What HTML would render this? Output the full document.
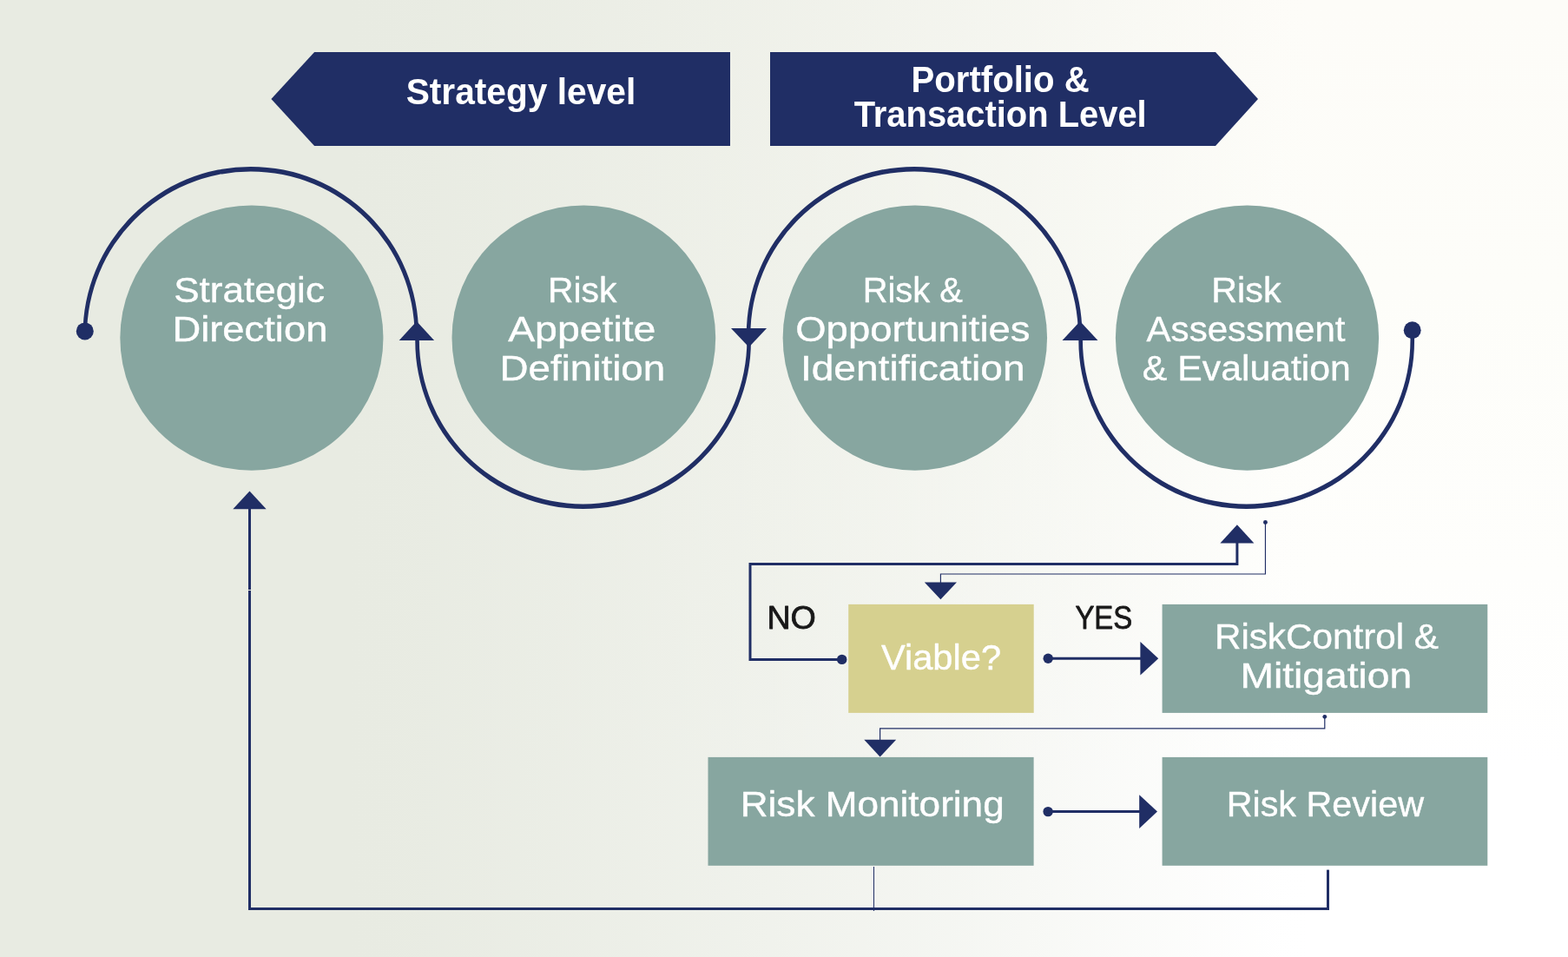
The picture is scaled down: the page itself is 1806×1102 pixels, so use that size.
<!DOCTYPE html>
<html lang="en">
<head>
<meta charset="utf-8">
<title>Risk management process</title>
<style>
html,body{margin:0;padding:0;background:#e8ebe2;}
body{width:1806px;height:1102px;overflow:hidden;}
svg{display:block;}
text{font-family:"Liberation Sans",sans-serif;white-space:pre;}
</style>
</head>
<body>
<svg width="1806" height="1102" viewBox="0 0 1806 1102" role="img" aria-label="Risk management process diagram">
<defs>
<linearGradient id="bgv" x1="0" y1="0" x2="0" y2="1102" gradientUnits="userSpaceOnUse">
<stop offset="0" stop-color="#fdfcf8"/>
<stop offset="0.3" stop-color="#fdfdf9"/>
<stop offset="0.6" stop-color="#fefefc"/>
<stop offset="0.8" stop-color="#ffffff"/>
</linearGradient>
<linearGradient id="bgh" x1="0" y1="0" x2="1806" y2="0" gradientUnits="userSpaceOnUse">
<stop offset="0.00" stop-color="#e8ebe2" stop-opacity="1.000"/>
<stop offset="0.20" stop-color="#e8ebe2" stop-opacity="1.000"/>
<stop offset="0.22" stop-color="#e8ebe2" stop-opacity="1.000"/>
<stop offset="0.24" stop-color="#e8ebe2" stop-opacity="0.994"/>
<stop offset="0.26" stop-color="#e8ebe2" stop-opacity="0.979"/>
<stop offset="0.28" stop-color="#e8ebe2" stop-opacity="0.958"/>
<stop offset="0.30" stop-color="#e8ebe2" stop-opacity="0.933"/>
<stop offset="0.32" stop-color="#e8ebe2" stop-opacity="0.910"/>
<stop offset="0.34" stop-color="#e8ebe2" stop-opacity="0.886"/>
<stop offset="0.36" stop-color="#e8ebe2" stop-opacity="0.859"/>
<stop offset="0.38" stop-color="#e8ebe2" stop-opacity="0.830"/>
<stop offset="0.40" stop-color="#e8ebe2" stop-opacity="0.800"/>
<stop offset="0.42" stop-color="#e8ebe2" stop-opacity="0.768"/>
<stop offset="0.44" stop-color="#e8ebe2" stop-opacity="0.736"/>
<stop offset="0.46" stop-color="#e8ebe2" stop-opacity="0.704"/>
<stop offset="0.48" stop-color="#e8ebe2" stop-opacity="0.671"/>
<stop offset="0.50" stop-color="#e8ebe2" stop-opacity="0.638"/>
<stop offset="0.52" stop-color="#e8ebe2" stop-opacity="0.603"/>
<stop offset="0.54" stop-color="#e8ebe2" stop-opacity="0.568"/>
<stop offset="0.56" stop-color="#e8ebe2" stop-opacity="0.532"/>
<stop offset="0.58" stop-color="#e8ebe2" stop-opacity="0.496"/>
<stop offset="0.60" stop-color="#e8ebe2" stop-opacity="0.459"/>
<stop offset="0.62" stop-color="#e8ebe2" stop-opacity="0.420"/>
<stop offset="0.64" stop-color="#e8ebe2" stop-opacity="0.378"/>
<stop offset="0.66" stop-color="#e8ebe2" stop-opacity="0.334"/>
<stop offset="0.68" stop-color="#e8ebe2" stop-opacity="0.288"/>
<stop offset="0.70" stop-color="#e8ebe2" stop-opacity="0.243"/>
<stop offset="0.72" stop-color="#e8ebe2" stop-opacity="0.200"/>
<stop offset="0.74" stop-color="#e8ebe2" stop-opacity="0.158"/>
<stop offset="0.76" stop-color="#e8ebe2" stop-opacity="0.118"/>
<stop offset="0.78" stop-color="#e8ebe2" stop-opacity="0.080"/>
<stop offset="0.80" stop-color="#e8ebe2" stop-opacity="0.039"/>
<stop offset="0.82" stop-color="#e8ebe2" stop-opacity="0.005"/>
<stop offset="0.84" stop-color="#e8ebe2" stop-opacity="0.000"/>
<stop offset="1.00" stop-color="#e8ebe2" stop-opacity="0.000"/>
</linearGradient>
</defs>
<rect width="1806" height="1102" fill="url(#bgv)"/>
<rect width="1806" height="1102" fill="url(#bgh)"/>
<g fill="#202e65">
<polygon points="312.4,114 362.1,60 841,60 841,168 362.1,168"/>
<polygon points="887,60 1400,60 1449,114 1400,168 887,168"/>
</g>
<g fill="#87a6a0">
<ellipse cx="289.9" cy="389.1" rx="151.55" ry="152.7"/>
<ellipse cx="672.35" cy="389.1" rx="151.85" ry="152.7"/>
<ellipse cx="1053.85" cy="389.1" rx="152.2" ry="152.7"/>
<ellipse cx="1436.5" cy="389.1" rx="151.6" ry="152.7"/>
</g>
<g fill="#202e65">
<path d="M95.45,386 V385.25 A193.35,193.35 0 0 1 482.15,385.25 V390 H477.55 V386.15 A188.75,188.75 0 0 0 100.05,386.15 V386 Z"/>
<path d="M478.25,382 V392.65 A193.35,193.35 0 0 0 864.95,392.65 V390 H860.35 V391.75 A188.75,188.75 0 0 1 482.85,391.75 V382 Z"/>
<path d="M859.75,384 V385.25 A193.35,193.35 0 0 1 1246.45,385.25 V390 H1241.85 V386.15 A188.75,188.75 0 0 0 864.35,386.15 V384 Z"/>
<path d="M1242.35,382 V392.65 A193.35,193.35 0 0 0 1629.05,392.65 V384 H1624.45 V391.75 A188.75,188.75 0 0 1 1246.95,391.75 V382 Z"/>
<circle cx="97.8" cy="381.4" r="10"/>
<circle cx="1626.7" cy="380.3" r="9.95"/>
<polygon points="479.9,370.1 459.7,391.9 500.1,391.9"/>
<polygon points="842,377.9 883.1,377.9 862.6,399.8"/>
<polygon points="1244,370.1 1223.5,391.9 1264.5,391.9"/>
<polygon points="287.5,565.6 268.3,586.3 306.7,586.3"/>
<polygon points="1424.9,604.3 1405.4,625.4 1444.4,625.4"/>
<polygon points="1064.8,670.4 1102,670.4 1083.4,690.3"/>
<polygon points="995.3,851.8 1032.2,851.8 1013.6,871.6"/>
<polygon points="1313.4,739 1334.2,758.3 1313.4,777.6"/>
<polygon points="1312.2,915.2 1333,934.6 1312.2,954"/>
<circle cx="969.7" cy="759.4" r="5.7"/>
<circle cx="1207.2" cy="758.3" r="5.7"/>
<circle cx="1207.1" cy="934.6" r="5.7"/>
<circle cx="1457.45" cy="601.5" r="2.45"/>
<circle cx="1525.8" cy="825.3" r="2.4"/>
<rect x="286" y="586" width="3" height="93"/>
<rect x="286" y="680" width="3" height="368"/>
<rect x="286" y="1045" width="1245" height="3"/>
<rect x="1528" y="1001.6" width="3" height="46.4"/>
<rect x="1006" y="998" width="1" height="51"/>
</g>
<g fill="none" stroke="#202e65">
<path stroke-width="3" d="M969.7,759.4 H864 V649.5 H1424.9 V625"/>
<path stroke-width="3" d="M1207.2,758.3 H1314"/>
<path stroke-width="3" d="M1207.1,934.6 H1313"/>
<path stroke-width="1.15" d="M1457.45,601.5 V661 H1083.4 V671"/>
<path stroke-width="1.2" d="M1525.8,825.3 V838.8 H1013.6 V852"/>
</g>
<rect x="977.2" y="695.9" width="213.5" height="125" fill="#d6d08f"/>
<g fill="#87a6a0">
<rect x="1338.6" y="695.9" width="374.7" height="125"/>
<rect x="815.5" y="871.9" width="375.1" height="124.9"/>
<rect x="1338.6" y="871.9" width="374.7" height="124.9"/>
</g>
<g style="will-change:transform">
<text x="467.64" y="119.50" font-size="42.3" font-weight="bold" fill="#fff" textLength="264.68" lengthAdjust="spacingAndGlyphs">Strategy level</text>
<text x="1049.48" y="106.00" font-size="42.3" font-weight="bold" fill="#fff" textLength="205.21" lengthAdjust="spacingAndGlyphs">Portfolio &amp;</text>
<text x="983.64" y="146.00" font-size="42.3" font-weight="bold" fill="#fff" textLength="337.09" lengthAdjust="spacingAndGlyphs">Transaction Level</text>
<text x="200.26" y="348.00" font-size="40.8" font-weight="normal" fill="#fff" stroke="#fff" stroke-width="0.4" stroke-linejoin="round" textLength="173.65" lengthAdjust="spacingAndGlyphs">Strategic</text>
<text x="198.45" y="393.00" font-size="40.8" font-weight="normal" fill="#fff" stroke="#fff" stroke-width="0.4" stroke-linejoin="round" textLength="178.92" lengthAdjust="spacingAndGlyphs">Direction</text>
<text x="631.03" y="348.00" font-size="40.8" font-weight="normal" fill="#fff" stroke="#fff" stroke-width="0.4" stroke-linejoin="round" textLength="79.40" lengthAdjust="spacingAndGlyphs">Risk</text>
<text x="585.15" y="393.00" font-size="40.8" font-weight="normal" fill="#fff" stroke="#fff" stroke-width="0.4" stroke-linejoin="round" textLength="170.26" lengthAdjust="spacingAndGlyphs">Appetite</text>
<text x="575.53" y="438.00" font-size="40.8" font-weight="normal" fill="#fff" stroke="#fff" stroke-width="0.4" stroke-linejoin="round" textLength="190.68" lengthAdjust="spacingAndGlyphs">Definition</text>
<text x="993.66" y="348.00" font-size="40.8" font-weight="normal" fill="#fff" stroke="#fff" stroke-width="0.4" stroke-linejoin="round" textLength="115.08" lengthAdjust="spacingAndGlyphs">Risk &amp;</text>
<text x="916.29" y="393.00" font-size="40.8" font-weight="normal" fill="#fff" stroke="#fff" stroke-width="0.4" stroke-linejoin="round" textLength="270.23" lengthAdjust="spacingAndGlyphs">Opportunities</text>
<text x="921.98" y="438.00" font-size="40.8" font-weight="normal" fill="#fff" stroke="#fff" stroke-width="0.4" stroke-linejoin="round" textLength="258.59" lengthAdjust="spacingAndGlyphs">Identification</text>
<text x="1395.33" y="348.00" font-size="40.8" font-weight="normal" fill="#fff" stroke="#fff" stroke-width="0.4" stroke-linejoin="round" textLength="80.21" lengthAdjust="spacingAndGlyphs">Risk</text>
<text x="1320.58" y="393.00" font-size="40.8" font-weight="normal" fill="#fff" stroke="#fff" stroke-width="0.4" stroke-linejoin="round" textLength="228.96" lengthAdjust="spacingAndGlyphs">Assessment</text>
<text x="1315.89" y="438.00" font-size="40.8" font-weight="normal" fill="#fff" stroke="#fff" stroke-width="0.4" stroke-linejoin="round" textLength="240.00" lengthAdjust="spacingAndGlyphs">&amp; Evaluation</text>
<text x="883.40" y="724.00" font-size="36.5" font-weight="normal" fill="#181818" stroke="#181818" stroke-width="0.8" stroke-linejoin="round" textLength="56.50" lengthAdjust="spacingAndGlyphs">NO</text>
<text x="1238.40" y="724.00" font-size="36.5" font-weight="normal" fill="#181818" stroke="#181818" stroke-width="0.8" stroke-linejoin="round" textLength="65.92" lengthAdjust="spacingAndGlyphs">YES</text>
<text x="1014.96" y="771.00" font-size="40.8" font-weight="normal" fill="#fff" stroke="#fff" stroke-width="0.4" stroke-linejoin="round" textLength="138.09" lengthAdjust="spacingAndGlyphs">Viable?</text>
<text x="1398.92" y="747.00" font-size="40.8" font-weight="normal" fill="#fff" stroke="#fff" stroke-width="0.4" stroke-linejoin="round" textLength="258.03" lengthAdjust="spacingAndGlyphs">RiskControl &amp;</text>
<text x="1428.47" y="792.00" font-size="40.8" font-weight="normal" fill="#fff" stroke="#fff" stroke-width="0.4" stroke-linejoin="round" textLength="197.79" lengthAdjust="spacingAndGlyphs">Mitigation</text>
<text x="852.66" y="940.00" font-size="40.8" font-weight="normal" fill="#fff" stroke="#fff" stroke-width="0.4" stroke-linejoin="round" textLength="304.05" lengthAdjust="spacingAndGlyphs">Risk Monitoring</text>
<text x="1412.68" y="940.00" font-size="40.8" font-weight="normal" fill="#fff" stroke="#fff" stroke-width="0.4" stroke-linejoin="round" textLength="227.38" lengthAdjust="spacingAndGlyphs">Risk Review</text>
</g>
</svg>
</body>
</html>
